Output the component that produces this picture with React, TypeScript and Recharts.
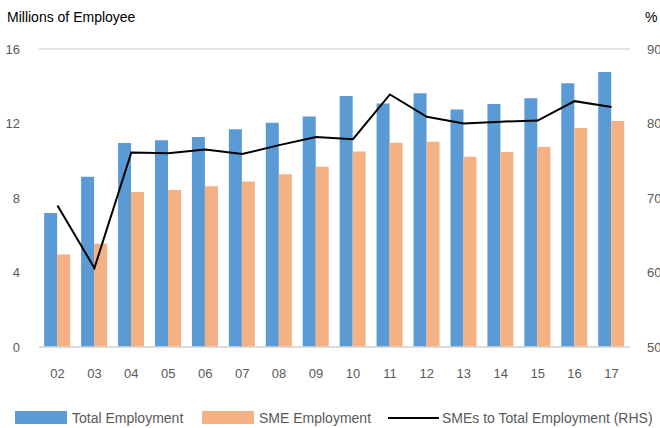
import {
  ComposedChart,
  Bar,
  Line,
  XAxis,
  YAxis,
  CartesianGrid,
} from 'recharts';

const YEARS = ['02', '03', '04', '05', '06', '07', '08', '09', '10', '11', '12', '13', '14', '15', '16', '17'];
const TOTAL_EMPLOYMENT = [7.2, 9.14, 10.95, 11.1, 11.27, 11.69, 12.04, 12.38, 13.48, 13.08, 13.62, 12.75, 13.05, 13.35, 14.16, 14.77];
const SME_EMPLOYMENT = [4.96, 5.55, 8.32, 8.43, 8.63, 8.88, 9.27, 9.68, 10.49, 10.97, 11.02, 10.22, 10.47, 10.74, 11.76, 12.13];
const SME_SHARE = [69.0, 60.6, 76.1, 76.0, 76.5, 75.9, 77.1, 78.2, 77.9, 83.9, 80.9, 80.0, 80.25, 80.4, 83.0, 82.2];
const LEFT_TICKS = [0, 4, 8, 12, 16];
const RIGHT_TICKS = [50, 60, 70, 80, 90];

const BLUE = '#5B9BD5';
const ORANGE = '#F4B183';
const TEXT = '#595959';
const FONT = '"Liberation Sans", Arial, sans-serif';

const chartData = YEARS.map((year, i) => ({
  year,
  total: TOTAL_EMPLOYMENT[i],
  sme: SME_EMPLOYMENT[i],
  share: SME_SHARE[i],
}));

// legend entries, x = left edge of the swatch
const LEGEND_ITEMS = [
  { label: 'Total Employment', color: BLUE, kind: 'box', x: 15 },
  { label: 'SME Employment', color: ORANGE, kind: 'box', x: 202 },
  { label: 'SMEs to Total Employment (RHS)', color: '#000000', kind: 'line', x: 388 },
];

function ChartLegend() {
  return (
    <div style={{ position: 'absolute', left: 0, top: 408, width: 660, height: 19, fontFamily: FONT, fontSize: 14, color: TEXT }}>
      {LEGEND_ITEMS.map((item) => (
        <div key={item.label} style={{ position: 'absolute', left: item.x, top: 0, height: 19, display: 'flex', alignItems: 'center', whiteSpace: 'nowrap' }}>
          {item.kind === 'box' ? (
            <span style={{ display: 'inline-block', width: 52, height: 13, background: item.color, marginRight: 5 }} />
          ) : (
            <span style={{ display: 'inline-block', width: 51, height: 2, background: item.color, marginRight: 3 }} />
          )}
          <span>{item.label}</span>
        </div>
      ))}
    </div>
  );
}

export default function App() {
  return (
    <div style={{ position: 'fixed', left: 0, top: 0, width: 660, height: 428, background: '#fff', fontFamily: FONT, overflow: 'hidden' }}>
      <div style={{ position: 'absolute', left: 7, top: 9, fontSize: 14, color: '#000' }}>Millions of Employee</div>
      <div style={{ position: 'absolute', left: 645, top: 9, fontSize: 14, color: '#000' }}>%</div>
      <ComposedChart
        width={660}
        height={428}
        data={chartData}
        margin={{ top: 49, right: 0, bottom: 51, left: 0 }}
        barCategoryGap="14%"
        barGap={0}
      >
        <CartesianGrid stroke="#D9D9D9" strokeWidth={1.5} vertical={false} />
        <XAxis
          dataKey="year"
          height={30}
          tick={{ fontSize: 13, fill: TEXT, fontFamily: FONT }}
          axisLine={{ stroke: '#D9D9D9', strokeWidth: 1.5 }}
          tickLine={false}
          tickMargin={16}
          interval={0}
        />
        <YAxis
          yAxisId="left"
          domain={[0, 16]}
          ticks={LEFT_TICKS}
          width={39}
          tick={{ fontSize: 13, fill: TEXT, fontFamily: FONT }}
          axisLine={false}
          tickLine={false}
          tickMargin={13}
        />
        <YAxis
          yAxisId="right"
          orientation="right"
          domain={[50, 90]}
          ticks={RIGHT_TICKS}
          width={30}
          tick={{ fontSize: 13, fill: TEXT, fontFamily: FONT }}
          axisLine={false}
          tickLine={false}
          tickMargin={11}
        />
        <Bar yAxisId="left" dataKey="total" name="Total Employment" fill={BLUE} isAnimationActive={false} />
        <Bar yAxisId="left" dataKey="sme" name="SME Employment" fill={ORANGE} isAnimationActive={false} />
        <Line
          yAxisId="right"
          dataKey="share"
          name="SMEs to Total Employment (RHS)"
          stroke="#000000"
          strokeWidth={2}
          dot={false}
          type="linear"
          isAnimationActive={false}
        />
      </ComposedChart>
      <ChartLegend />
    </div>
  );
}
